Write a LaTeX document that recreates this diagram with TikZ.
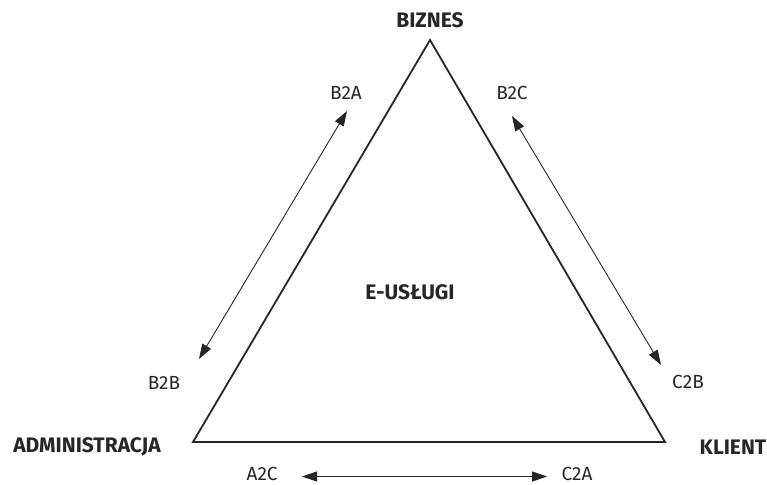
\documentclass[tikz,border=0pt]{standalone}
\usepackage{fontspec}
\setmainfont{Fira Sans}
\usetikzlibrary{arrows.meta}
\begin{document}
\begin{tikzpicture}[x=1pt,y=-1pt,
  corner/.style={inner sep=1pt, font=\fontsize{21}{24}\selectfont\bfseries, text=black!85},
  rel/.style={inner sep=0pt, font=\fontsize{19}{22}\selectfont, text=black!85},
  side/.style={line width=1.8pt, black!85, line join=miter},
  link/.style={line width=0.9pt, black!85, {Triangle[length=15pt,width=10pt]}-{Triangle[length=15pt,width=10pt]}}]
  \useasboundingbox (0,0) rectangle (767,484);
  % triangle corners
  \coordinate (top) at (430,40);
  \coordinate (bl) at (193,442);
  \coordinate (br) at (665,442);
  \draw[side] (top) -- (bl) -- (br) -- cycle;
  % corner labels
  \node[corner] (biz) at (430,20) {BIZNES};
  \node[corner] (adm) at (87,447) {ADMINISTRACJA};
  \node[corner] (kli) at (733,447) {KLIENT};
  \node[corner] (eus) at (410,292) {E-USŁUGI};
  % relation labels
  \node[rel] (b2a) at (346,93) {B2A};
  \node[rel] (b2c) at (512,93) {B2C};
  \node[rel] (b2b) at (164,383) {B2B};
  \node[rel] (c2b) at (688,382) {C2B};
  \node[rel] (a2c) at (262,473.5) {A2C};
  \node[rel] (c2a) at (577,473.5) {C2A};
  % arrow ends
  \coordinate (l1) at (347,111);
  \coordinate (l2) at (199,359);
  \coordinate (r1) at (512,116);
  \coordinate (r2) at (661,365);
  \coordinate (d1) at (302,476.5);
  \coordinate (d2) at (547,476.5);
  \draw[link] (l1) -- (l2);
  \draw[link] (r1) -- (r2);
  \draw[link] (d1) -- (d2);
\end{tikzpicture}
\end{document}
